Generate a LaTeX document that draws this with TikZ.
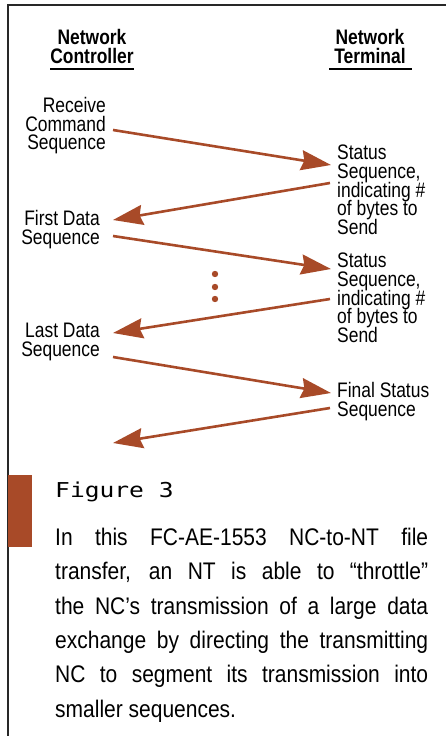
\documentclass[tikz,border=0pt]{standalone}
\usepackage{fontspec}
\setmainfont[FakeStretch=0.83]{Liberation Sans}
\newfontfamily\parafont[FakeStretch=0.875]{Liberation Sans}
\newfontfamily\figmono[FakeStretch=1.2]{DejaVu Sans Mono}
\usetikzlibrary{arrows.meta}
\definecolor{rust}{RGB}{168,74,40}
\definecolor{frame}{RGB}{40,40,40}
\tikzset{
  lbl/.style={inner sep=0pt, font={\fontsize{21}{18.7}\selectfont\lineskiplimit=-30pt}},
  lleft/.style={lbl, align=right, anchor=north east},
  lright/.style={lbl, align=left, anchor=north west},
  head/.style={inner sep=0pt, align=center, anchor=north, font={\fontsize{21}{19}\selectfont\bfseries\lineskiplimit=-30pt}},
  msg/.style={draw=rust, line width=2.6pt, -{Stealth[length=30pt,width=20pt,inset=3pt]}, fill=rust},
  dot/.style={fill=rust, draw=none},
}
\begin{document}
\begin{tikzpicture}[x=1pt,y=-1pt]
\useasboundingbox (0,0) rectangle (446,736);
% frame
\draw[frame, line width=1.6pt] (8,736) -- (8,5) -- (446,5);
% headings
\node[head] (nc) at (92,29) {Network\\Controller};
\node[head] (nt) at (370,29) {Network\\Terminal};
\draw[black, line width=1.4pt] (50,69) -- (134,69);
\draw[black, line width=1.4pt] (329,69) -- (412,69);
% left labels
\node[lleft] (rcs) at (106,97) {Receive\\Command\\Sequence};
\node[lleft] (fds) at (100,210) {First Data\\Sequence};
\node[lleft] (lds) at (100,323) {Last Data\\Sequence};
% right labels
\node[lright] (ss1) at (337,145) {Status\\Sequence,\\indicating \#\\of bytes to\\Send};
\node[lright] (ss2) at (337,253) {Status\\Sequence,\\indicating \#\\of bytes to\\Send};
\node[lright] (fss) at (337,382) {Final Status\\Sequence};
% arrow end points
\coordinate (a1s) at (113,130); \coordinate (a1e) at (331,165);
\coordinate (a2s) at (330,183); \coordinate (a2e) at (113,220);
\coordinate (a3s) at (113,236); \coordinate (a3e) at (331,269);
\coordinate (a4s) at (330,299); \coordinate (a4e) at (113,333);
\coordinate (a5s) at (113,357); \coordinate (a5e) at (331,393);
\coordinate (a6s) at (330,408); \coordinate (a6e) at (113,443);
\draw[msg] (a1s) -- (a1e);
\draw[msg] (a2s) -- (a2e);
\draw[msg] (a3s) -- (a3e);
\draw[msg] (a4s) -- (a4e);
\draw[msg] (a5s) -- (a5e);
\draw[msg] (a6s) -- (a6e);
% dots
\fill[dot] (215,274) circle (3.2);
\fill[dot] (215,287) circle (3.2);
\fill[dot] (215,299) circle (3.2);
% caption
\fill[rust] (8,475) rectangle (32,547);
\node[inner sep=0pt, anchor=base west, font={\fontsize{20.5}{24}\figmono}] (fig) at (55,497) {Figure 3};
\node[inner sep=0pt, anchor=north west, align=left, font={\fontsize{24}{34.3}\parafont}] (cap) at (55,528) {%
\makebox[373pt][s]{In this FC-AE-1553 NC-to-NT file}\\
\makebox[373pt][s]{transfer, an NT is able to “throttle”}\\
\makebox[373pt][s]{the NC’s transmission of a large data}\\
\makebox[373pt][s]{exchange by directing the transmitting}\\
\makebox[373pt][s]{NC to segment its transmission into}\\
smaller sequences.};
\end{tikzpicture}
\end{document}
